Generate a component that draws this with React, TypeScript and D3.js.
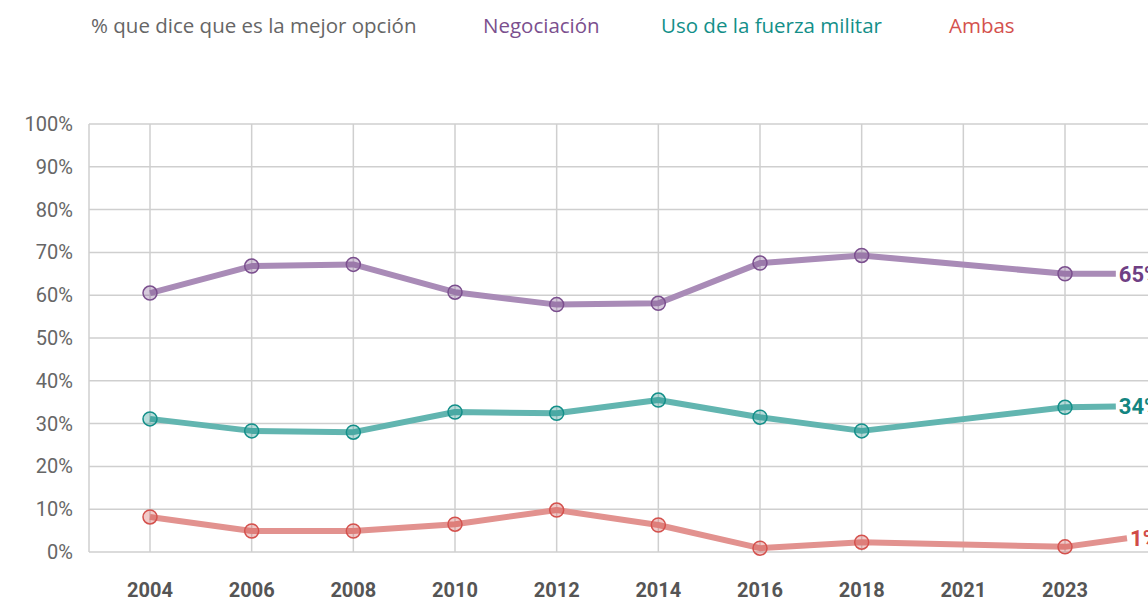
import React from 'react';
import * as d3 from 'd3';

const years = ['2004', '2006', '2008', '2010', '2012', '2014', '2016', '2018', '2021', '2023'];
const negociacion = [60.5, 66.8, 67.2, 60.7, 57.8, 58.1, 67.5, 69.3, null, 65];
const fuerzaMilitar = [31.1, 28.3, 28.0, 32.7, 32.4, 35.5, 31.5, 28.3, null, 33.8];
const ambas = [8.2, 4.9, 4.9, 6.5, 9.8, 6.3, 0.9, 2.3, null, 1.2];
const endLabels = ['65%', '34%', '1%'];
const endValues = [65, 34, 3.2];
const yTicks = [0, 10, 20, 30, 40, 50, 60, 70, 80, 90, 100];
const legendTitle = '% que dice que es la mejor opción';

const series = [
  { name: 'Negociación', values: negociacion, color: '#7b4f8e', line: '#a98bb7', label: '#6f3f84', ext: 0.5 },
  { name: 'Uso de la fuerza militar', values: fuerzaMilitar, color: '#138f89', line: '#62b5b0', label: '#138580', ext: 0.5 },
  { name: 'Ambas', values: ambas, color: '#d4514d', line: '#e2928f', label: '#d04b47', ext: 0.61 },
];

const legendX = [483, 661, 949];

export default function App() {
  const width = 1148;
  const height = 600;
  const plotLeft = 89;
  const top = 124;
  const bottom = 552;

  const x = d3.scaleLinear().domain([0, years.length - 1]).range([150, 1065]);
  const y = d3.scaleLinear().domain([0, 100]).range([bottom, top]);

  const uiFont = '"Open Sans", sans-serif';
  const numFont = 'Roboto, sans-serif';

  return (
    <div style={{ position: 'absolute', left: 0, top: 0 }}>
      <svg width={width} height={height} style={{ display: 'block', background: '#fff' }}>
        {/* legend */}
        <text x={91} y={33} fontFamily={uiFont} fontSize={20.5} fill="#666">{legendTitle}</text>
        {series.map((s, i) => (
          <text key={s.name} x={legendX[i]} y={33} fontFamily={uiFont} fontSize={20.5} fill={s.color}>{s.name}</text>
        ))}

        {/* grid */}
        {yTicks.map(t => (
          <line key={'h' + t} x1={plotLeft} x2={width} y1={y(t)} y2={y(t)} stroke="#cfcfcf" strokeWidth={1.5} />
        ))}
        <line x1={plotLeft} x2={plotLeft} y1={top} y2={bottom} stroke="#cfcfcf" strokeWidth={1.5} />
        {years.map((yr, i) => (
          <line key={'v' + yr} x1={x(i)} x2={x(i)} y1={top} y2={bottom} stroke="#cfcfcf" strokeWidth={1.5} />
        ))}

        {/* y labels */}
        {yTicks.map(t => (
          <text key={'yl' + t} x={73} y={y(t)} dy="0.35em" textAnchor="end" fontFamily={numFont} fontWeight={400} fontSize={20} fill="#666">{t}%</text>
        ))}

        {/* x labels */}
        {years.map((yr, i) => (
          <text key={'xl' + yr} x={x(i)} y={597} textAnchor="middle" fontFamily={numFont} fontWeight={700} fontSize={20} fill="#555">{yr}</text>
        ))}

        {/* lines */}
        {series.map((s, si) => {
          const pts: [number, number][] = [];
          s.values.forEach((v, i) => { if (v != null) pts.push([x(i), y(v)]); });
          const lastIdx = years.length - 1;
          pts.push([x(lastIdx + s.ext), y(endValues[si])]);
          const line = d3.line();
          return (
            <path key={'p' + s.name} d={line(pts) || ''} fill="none" stroke={s.line} strokeWidth={6} strokeLinejoin="round" />
          );
        })}

        {/* markers */}
        {series.map(s => s.values.map((v, i) => v == null ? null : (
          <circle key={s.name + i} cx={x(i)} cy={y(v)} r={7} fill={s.color} fillOpacity={0.3} stroke={s.color} strokeWidth={1.5} />
        )))}

        {/* end labels */}
        {series.map((s, si) => (
          <text key={'el' + s.name} x={x(years.length - 1 + s.ext) + 3} y={y(endValues[si])} dy="0.35em" fontFamily={numFont} fontWeight={700} fontSize={22} fill={s.label}>{endLabels[si]}</text>
        ))}
      </svg>
    </div>
  );
}
